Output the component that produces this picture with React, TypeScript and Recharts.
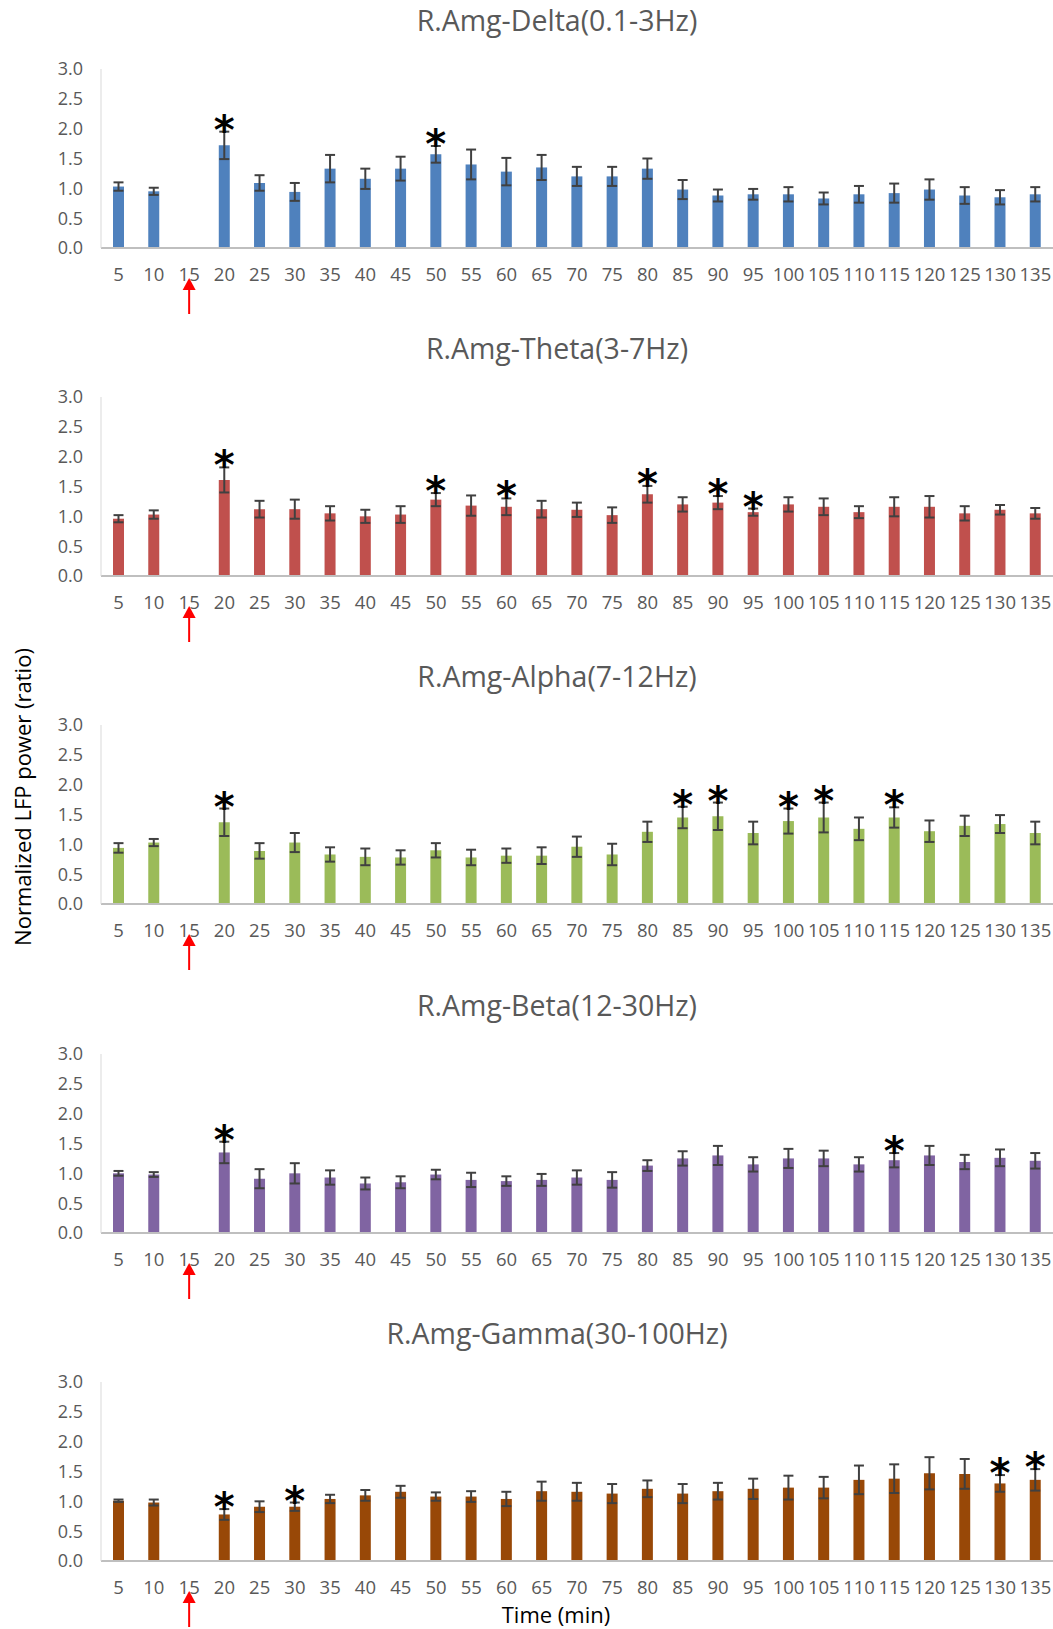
import React from 'react';
import { BarChart, Bar, XAxis, YAxis, ErrorBar, LabelList } from 'recharts';

const timeLabels = ['5','10','15','20','25','30','35','40','45','50','55','60','65','70','75','80','85','90','95','100','105','110','115','120','125','130','135'];
const yTicks = [0, 0.5, 1, 1.5, 2, 2.5, 3];

const deltaMean = [1.03,0.95,null,1.72,1.09,0.94,1.33,1.16,1.33,1.57,1.40,1.28,1.35,1.20,1.20,1.33,0.98,0.88,0.90,0.90,0.83,0.90,0.92,0.98,0.88,0.85,0.90];
const deltaErr = [0.07,0.06,null,0.23,0.13,0.15,0.23,0.17,0.20,0.14,0.25,0.23,0.21,0.16,0.16,0.17,0.16,0.10,0.09,0.12,0.10,0.14,0.16,0.17,0.14,0.12,0.12];
const deltaStars = ['20','50'];

const thetaMean = [0.96,1.03,null,1.61,1.12,1.12,1.05,1.00,1.03,1.28,1.18,1.16,1.12,1.11,1.02,1.37,1.20,1.23,1.07,1.20,1.16,1.07,1.16,1.16,1.05,1.11,1.05];
const thetaErr = [0.06,0.07,null,0.21,0.14,0.16,0.12,0.11,0.14,0.11,0.17,0.14,0.14,0.12,0.13,0.14,0.12,0.11,0.06,0.12,0.14,0.10,0.16,0.18,0.12,0.08,0.09];
const thetaStars = ['20','50','60','80','90','95'];

const alphaMean = [0.94,1.03,null,1.37,0.89,1.03,0.83,0.79,0.78,0.90,0.78,0.81,0.81,0.96,0.83,1.21,1.45,1.47,1.19,1.39,1.45,1.26,1.45,1.22,1.31,1.34,1.19];
const alphaErr = [0.08,0.06,null,0.23,0.13,0.16,0.12,0.14,0.12,0.12,0.13,0.12,0.14,0.17,0.18,0.17,0.18,0.23,0.19,0.21,0.25,0.19,0.17,0.18,0.17,0.15,0.19];
const alphaStars = ['20','85','90','100','105','115'];

const betaMean = [1.00,0.98,null,1.35,0.91,1.00,0.93,0.83,0.85,0.98,0.89,0.87,0.89,0.93,0.89,1.13,1.25,1.30,1.15,1.25,1.25,1.15,1.22,1.30,1.19,1.26,1.21];
const betaErr = [0.04,0.04,null,0.18,0.16,0.17,0.12,0.10,0.10,0.08,0.12,0.08,0.10,0.12,0.13,0.09,0.12,0.16,0.12,0.16,0.13,0.12,0.12,0.16,0.12,0.14,0.13];
const betaStars = ['20','115'];

const gammaMean = [1.01,0.98,null,0.78,0.91,0.91,1.04,1.10,1.16,1.08,1.08,1.04,1.17,1.16,1.13,1.21,1.13,1.17,1.21,1.23,1.23,1.36,1.38,1.47,1.46,1.30,1.36];
const gammaErr = [0.02,0.05,null,0.09,0.09,0.07,0.07,0.09,0.10,0.07,0.09,0.12,0.16,0.15,0.16,0.14,0.16,0.14,0.17,0.20,0.18,0.24,0.24,0.27,0.25,0.14,0.18];
const gammaStars = ['20','30','130','135'];

const panels = [
  { title: 'R.Amg-Delta(0.1-3Hz)', mean: deltaMean, err: deltaErr, stars: deltaStars, color: '#4F81BD', top: 0 },
  { title: 'R.Amg-Theta(3-7Hz)', mean: thetaMean, err: thetaErr, stars: thetaStars, color: '#C0504D', top: 328 },
  { title: 'R.Amg-Alpha(7-12Hz)', mean: alphaMean, err: alphaErr, stars: alphaStars, color: '#9BBB59', top: 656 },
  { title: 'R.Amg-Beta(12-30Hz)', mean: betaMean, err: betaErr, stars: betaStars, color: '#8064A2', top: 985 },
  { title: 'R.Amg-Gamma(30-100Hz)', mean: gammaMean, err: gammaErr, stars: gammaStars, color: '#984807', top: 1313 },
];

const FONT = "'Open Sans', 'DejaVu Sans', sans-serif";

const XTick = (props: any) => {
  const { x, y, payload } = props;
  return (
    <g>
      <text x={x} y={y + 33} textAnchor="middle" fontSize={18.5} fontFamily={FONT} fill="#595959">{payload.value}</text>
      {payload.value === '15' && (
        <g>
          <line x1={x} x2={x} y1={y + 40} y2={y + 66} stroke="#FF0000" strokeWidth={2} />
          <polygon points={`${x},${y + 30} ${x - 6.5},${y + 42} ${x + 6.5},${y + 42}`} fill="#FF0000" />
        </g>
      )}
    </g>
  );
};

const makeStar = (mean: (number | null)[], err: (number | null)[], stars: string[]) => (props: any) => {
  const { x, y, width, height, value } = props;
  const idx = timeLabels.indexOf(String(value));
  if (idx < 0) return null;
  const m = mean[idx];
  const e = err[idx];
  if (m == null || e == null || !stars.includes(timeLabels[idx])) return null;
  const px = Number(height) / m;
  const capY = Number(y) - e * px;
  const cx = Number(x) + Number(width) / 2;
  return (
    <text x={cx} y={capY + 12} textAnchor="middle" fontSize={40} fontFamily="'DejaVu Sans', sans-serif" fontWeight="bold" fill="#000">*</text>
  );
};

const Panel = ({ p }: { p: any }) => {
  const data = timeLabels.map((t, i) => ({ t, v: p.mean[i], e: p.err[i] }));
  return (
    <div style={{ position: 'absolute', left: 0, top: p.top, width: 1053, height: 320 }}>
      <BarChart width={1053} height={320} data={data} margin={{ top: 69, right: 0, left: 0, bottom: 0 }} barCategoryGap={0}>
        <XAxis
          dataKey="t"
          interval={0}
          tickLine={false}
          tickSize={0}
          tickMargin={0}
          height={72}
          axisLine={{ stroke: '#BFBFBF', strokeWidth: 2 }}
          tick={<XTick />}
        />
        <YAxis
          width={101}
          domain={[0, 3]}
          ticks={yTicks}
          tickFormatter={(v: number) => v.toFixed(1)}
          tickLine={false}
          tickSize={6}
          tickMargin={12}
          axisLine={{ stroke: '#D9D9D9', strokeWidth: 1 }}
          tick={{ fontSize: 18, fontFamily: FONT, fill: '#595959' }}
        />
        <Bar dataKey="v" fill={p.color} barSize={11} isAnimationActive={false}>
          <ErrorBar dataKey="e" width={5} strokeWidth={2} stroke="#404040" direction="y" />
          <LabelList dataKey="t" content={makeStar(p.mean, p.err, p.stars)} />
        </Bar>
      </BarChart>
    </div>
  );
};

export default function App() {
  return (
    <div style={{ position: 'absolute', left: 0, top: 0, width: 1053, height: 1629, overflow: 'hidden', background: '#fff' }}>
      {panels.map((p) => (
        <Panel key={p.title} p={p} />
      ))}
      <svg width={1053} height={1629} style={{ position: 'absolute', left: 0, top: 0, pointerEvents: 'none' }}>
        {panels.map((p) => (
          <text key={p.title} x={557} y={p.top + 31} textAnchor="middle" fontSize={28.5} fontFamily={FONT} fill="#595959">{p.title}</text>
        ))}
        <text x={31} y={797} transform="rotate(-90 31 797)" textAnchor="middle" fontSize={22} fontFamily={FONT} fill="#000">Normalized LFP power (ratio)</text>
        <text x={556} y={1623} textAnchor="middle" fontSize={22} fontFamily={FONT} fill="#000">Time (min)</text>
      </svg>
    </div>
  );
}
